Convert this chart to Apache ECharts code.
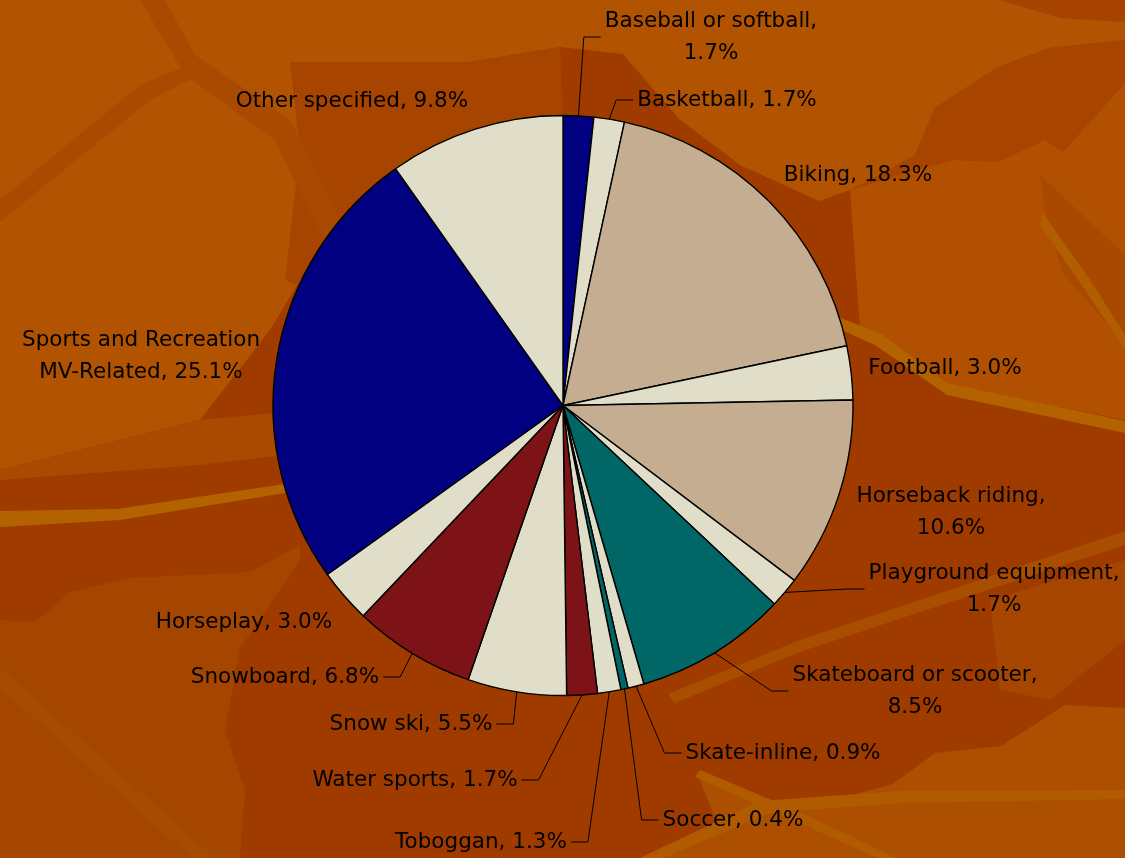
<!DOCTYPE html>
<html>
<head>
<meta charset="utf-8">
<script src="https://cdn.jsdelivr.net/npm/echarts@6/dist/echarts.min.js"></script>
<style>
  html, body { margin: 0; padding: 0; background: #A03B00; }
  #chart { width: 1125px; height: 858px; }
</style>
</head>
<body>
<div id="chart"></div>
<script>
// Injury share by sport / recreation activity (percent of total)
const categories = [
  'Baseball or softball', 'Basketball', 'Biking', 'Football', 'Horseback riding',
  'Playground equipment', 'Skateboard or scooter', 'Skate-inline', 'Soccer', 'Toboggan',
  'Water sports', 'Snow ski', 'Snowboard', 'Horseplay',
  'Sports and Recreation MV-Related', 'Other specified'
];
const shares = [1.7, 1.7, 18.3, 3.0, 10.6, 1.7, 8.5, 0.9, 0.4, 1.3, 1.7, 5.5, 6.8, 3.0, 25.1, 9.8];

const NAVY = '#000080', CREAM = '#E0DEC8', TAN = '#C4AD90', TEAL = '#006666', MAROON = '#7D1316';
const sliceColors = [NAVY, CREAM, TAN, CREAM, TAN, CREAM, TEAL, CREAM, TEAL, CREAM,
                     MAROON, CREAM, MAROON, CREAM, NAVY, CREAM];

// Label placement: text block centre, words kept on the first line, leader line on/off
const labelPlacement = [
  { x: 711, y: 37,  split: 3, leader: true },
  { x: 727, y: 100, split: 0, leader: true },
  { x: 858, y: 175, split: 0, leader: false },
  { x: 945, y: 368, split: 0, leader: false },
  { x: 951, y: 512, split: 2, leader: false },
  { x: 994, y: 589, split: 2, leader: true },
  { x: 915, y: 691, split: 3, leader: true },
  { x: 783, y: 753, split: 0, leader: true },
  { x: 733, y: 820, split: 0, leader: true },
  { x: 481, y: 842, split: 0, leader: true },
  { x: 415, y: 780, split: 0, leader: true },
  { x: 411, y: 724, split: 0, leader: true },
  { x: 285, y: 677, split: 0, leader: true },
  { x: 244, y: 622, split: 0, leader: false },
  { x: 141, y: 356, split: 3, leader: false },
  { x: 352, y: 101, split: 0, leader: false }
];

const PIE_CENTER = [563, 405.5];
const PIE_RADIUS = 290;

function labelText(i) {
  const words = (categories[i] + ', ' + shares[i].toFixed(1) + '%').split(' ');
  const k = labelPlacement[i].split;
  if (!k) return words.join(' ');
  return words.slice(0, k).join(' ') + '\n' + words.slice(k).join(' ');
}

// Abstract backdrop shapes (fill colour + outline)
const backdrop = [
  ['#B15300', [[0,0],[1125,0],[1125,40],[1050,48],[998,67],[935,108],[915,155],[880,175],[850,190],[819,201],[740,165],[679,119],[623,54],[560,47],[470,62],[400,120],[330,230],[270,330],[200,420],[100,445],[0,470]]],
  ['#A64400', [[290,62],[470,62],[560,47],[563,116],[470,130],[400,170],[330,300],[285,280],[300,150]]],
  ['#A74500', [[935,108],[998,67],[1050,48],[1125,40],[1125,83],[1063,152],[1045,140],[998,162],[955,160],[915,170],[850,190],[880,175],[915,155]]],
  ['#A64300', [[1000,0],[1125,0],[1125,22],[1060,18]]],
  ['#AA4A00', [[140,0],[165,0],[195,55],[290,120],[345,230],[335,265],[275,140],[185,75]]],
  ['#AA4A00', [[0,200],[140,85],[200,60],[205,72],[150,100],[0,222]]],
  ['#B05000', [[850,190],[915,170],[955,160],[998,162],[1045,140],[1063,152],[1125,83],[1125,420],[950,385],[860,330]]],
  ['#A94900', [[1040,175],[1125,255],[1125,345],[1062,272],[1046,215]]],
  ['#A94A00', [[0,470],[100,445],[200,420],[285,412],[285,455],[200,465],[0,480]]],
  ['#A44500', [[0,620],[35,622],[70,592],[130,578],[250,572],[300,545],[300,560],[240,648],[225,730],[245,790],[240,858],[0,858]]],
  ['#AD4F00', [[697,773],[790,812],[893,784],[935,753],[1001,746],[1065,705],[1125,708],[1125,858],[640,858],[720,830]]],
  ['#A64600', [[990,600],[1125,560],[1125,640],[1050,700],[1000,690]]],
  // light streaks
  ['#B36200', [[0,511],[117,509],[285,484],[285,493],[120,520],[0,527]]],
  ['#B36200', [[835,316],[880,333],[947,383],[1125,421],[1125,433],[947,395],[875,345],[835,327]]],
  ['#B05E00', [[1043,213],[1090,280],[1125,335],[1125,349],[1085,290],[1040,225]]],
  ['#A94D00', [[668,694],[800,640],[920,600],[1125,531],[1125,545],[920,612],[800,652],[675,703]]],
  ['#A64C00', [[0,668],[215,858],[192,858],[0,688]]],
  ['#B15B00', [[700,770],[800,812],[900,860],[882,860],[795,821],[695,777]]],
  ['#B15B00', [[640,858],[760,801],[900,791],[1125,790],[1125,799],[900,803],[770,813],[663,858]]]
];

const chart = echarts.init(document.getElementById('chart'), null, { renderer: 'canvas' });

const option = {
  backgroundColor: '#A03B00',
  animation: false,
  graphic: backdrop.map(function (b) {
    return { type: 'polygon', silent: true, z: 0, shape: { points: b[1] }, style: { fill: b[0] } };
  }),
  series: [{
    type: 'pie',
    z: 5,
    center: PIE_CENTER,
    radius: PIE_RADIUS,
    startAngle: 90,
    clockwise: true,
    avoidLabelOverlap: false,
    data: categories.map(function (name, i) {
      return {
        name: name,
        value: shares[i],
        itemStyle: { color: sliceColors[i] },
        labelLine: { show: labelPlacement[i].leader }
      };
    }),
    itemStyle: { borderColor: '#000000', borderWidth: 1.4 },
    label: {
      show: true,
      position: 'outside',
      formatter: function (p) { return labelText(p.dataIndex); },
      color: '#000000',
      fontFamily: 'DejaVu Sans',
      fontSize: 21.5,
      lineHeight: 32,
      align: 'center'
    },
    labelLine: {
      show: true,
      length: 10,
      length2: 10,
      smooth: false,
      lineStyle: { color: '#000000', width: 1 }
    },
    labelLayout: function (p) {
      const place = labelPlacement[p.dataIndex];
      const out = { x: place.x, y: place.y, align: 'center', verticalAlign: 'middle' };
      if (place.leader && p.labelLinePoints) {
        const w = p.labelRect.width;
        const onRight = place.x > PIE_CENTER[0];
        const edge = onRight ? place.x - w / 2 : place.x + w / 2;
        const dir = onRight ? -1 : 1;
        out.labelLinePoints = [
          p.labelLinePoints[0],
          [edge + dir * 21, place.y],
          [edge + dir * 4, place.y]
        ];
      }
      return out;
    },
    emphasis: { disabled: true }
  }]
};

chart.setOption(option);
</script>
</body>
</html>
